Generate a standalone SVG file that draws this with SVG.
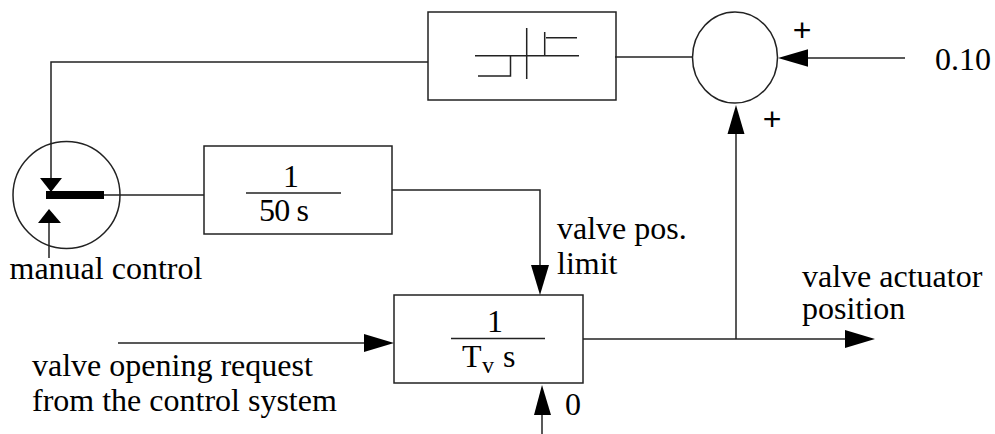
<svg xmlns="http://www.w3.org/2000/svg" width="995" height="434" viewBox="0 0 995 434">
<style>
text{font-family:"Liberation Serif","Times New Roman",serif;font-size:32px;fill:#000}
.p{font-family:"Liberation Sans",Arial,sans-serif}
.b{fill:#fff;stroke:#222;stroke-width:1.5}
.l{fill:none;stroke:#222;stroke-width:1.5}
.a{fill:#000;stroke:none}
</style>
<rect width="995" height="434" fill="#fff"/>
<g id="saturation">
<rect class="b" x="428" y="12" width="188" height="88"/>
<path class="l" d="M475 55.700H579M478 76H510.500V55.700M526.700 28V79M544.700 55.700V32M546 37.700H577"/>
</g>
<g id="sum">
<ellipse class="b" cx="735" cy="57.500" rx="42.500" ry="45.500"/>
<text class="p" x="792.700" y="41">+</text>
<text class="p" x="762.700" y="130">+</text>
</g>
<g id="switch">
<circle class="b" cx="66.500" cy="195" r="53.500"/>
<rect class="a" x="46" y="191" width="58" height="8"/>
</g>
<g id="integrator">
<rect class="b" x="204" y="146" width="188" height="88"/>
<text x="291" y="187" text-anchor="middle">1</text>
<path class="l" d="M246 193H341"/>
<text x="259" y="221" textLength="50">50 s</text>
</g>
<g id="actuator">
<rect class="b" x="394" y="295" width="189" height="88"/>
<text x="495" y="332" text-anchor="middle">1</text>
<path class="l" d="M451 338.500H545"/>
<text x="462" y="367">T</text>
<text x="482" y="373" style="font-size:24px">v</text>
<text x="503" y="367">s</text>
</g>
<g id="connectors">
<path class="l" d="M428 62H51V178"/>
<path class="l" d="M615 57H693"/>
<path class="l" d="M808 58H905"/>
<path class="l" d="M736 134V339"/>
<path class="l" d="M104 195H204"/>
<path class="l" d="M392 190H540V266"/>
<path class="l" d="M49 223V258"/>
<path class="l" d="M118 343H366"/>
<path class="l" d="M583 339H846"/>
<path class="l" d="M542 414V434"/>
<polygon class="a" points="778,58 808,49.300 808,66.700"/>
<polygon class="a" points="736,105 727.500,134 744.500,134"/>
<polygon class="a" points="51,192 40,178 62,178"/>
<polygon class="a" points="49,209 38,223 61,223"/>
<polygon class="a" points="540,295 531,265 549,265"/>
<polygon class="a" points="394,343 364,334 364,352"/>
<polygon class="a" points="875,339 845,330 845,348"/>
<polygon class="a" points="542,385 534,415 551,415"/>
</g>
<g id="labels">
<text x="935" y="70">0.10</text>
<text x="9.500" y="279">manual control</text>
<text x="557" y="239">valve pos.</text>
<text x="557" y="274">limit</text>
<text x="802" y="287">valve actuator</text>
<text x="802" y="319">position</text>
<text x="32" y="376">valve opening request</text>
<text x="32" y="411">from the control system</text>
<text x="565" y="415">0</text>
</g>
</svg>
